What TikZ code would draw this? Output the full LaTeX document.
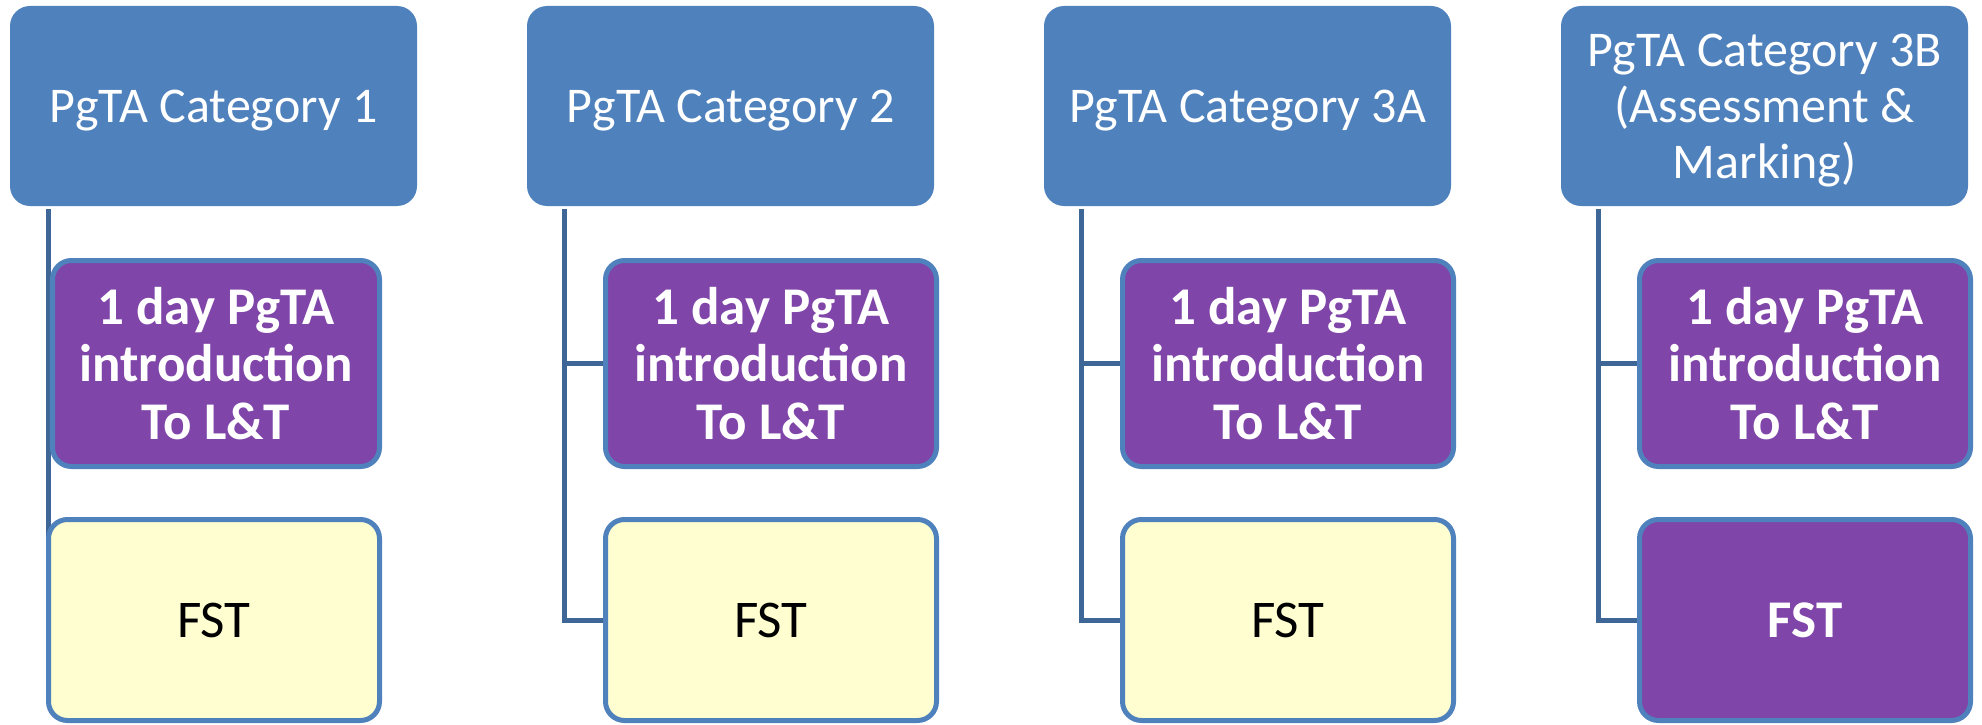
\documentclass[tikz,border=0pt]{standalone}
\usepackage{fontspec}
\setmainfont{Carlito}
\definecolor{hdrblue}{HTML}{4F81BD}
\definecolor{linkblue}{HTML}{3E6696}
\definecolor{boxpurple}{HTML}{7F45A8}
\definecolor{boxyellow}{HTML}{FEFED0}
\tikzset{
  hdr/.style={fill=hdrblue, draw=none, rounded corners=20pt, minimum width=407pt, minimum height=200pt, inner sep=0pt},
  hdrtext/.style={text=white, align=center, inner sep=0pt, yshift=-4.5pt, font=\fontsize{50}{55.6}\selectfont},
  child/.style={draw=hdrblue, line width=5pt, rounded corners=19pt, align=center, inner sep=0pt},
  purplebox/.style={child, fill=boxpurple, text=white, font=\fontsize{53}{57.5}\selectfont\bfseries},
  yellowbox/.style={child, fill=boxyellow, text=black, font=\fontsize{53}{57.5}\selectfont},
  purplefst/.style={child, fill=boxpurple, text=white, font=\fontsize{53}{57.5}\selectfont\bfseries},
  conn/.style={draw=linkblue, line width=5pt}
}
\begin{document}
\begin{tikzpicture}[x=1pt,y=-1pt]
\useasboundingbox (0,0) rectangle (1982,725);
% headers
\node[hdr, label={[hdrtext]center:PgTA Category 1}] (h1) at (213.5,106) {};
\node[hdr, label={[hdrtext]center:PgTA Category 2}] (h2) at (730.5,106) {};
\node[hdr, label={[hdrtext]center:PgTA Category 3A}] (h3) at (1247.5,106) {};
\node[hdr, label={[hdrtext]center:{PgTA Category 3B\\(Assessment \&\\Marking)}}] (h4) at (1764.5,106) {};
% connector tops
\coordinate (t1) at (48.5,209);
\coordinate (t2) at (564.5,209);
\coordinate (t3) at (1081.5,209);
\coordinate (t4) at (1598.5,209);
% connectors (drawn first, covered by boxes)
\draw[conn] (t1) -- (48.5,620);
\draw[conn] (t2) |- (605,363.5);
\draw[conn] (t2) |- (605,620);
\draw[conn] (t3) |- (1122,363.5);
\draw[conn] (t3) |- (1122,620);
\draw[conn] (t4) |- (1639,363.5);
\draw[conn] (t4) |- (1639,620);
% children
\node[purplebox, minimum width=327pt, minimum height=206pt] (p1) at (216,363.5) {1 day PgTA\\introduction\\To L\&T};
\node[yellowbox, minimum width=331pt, minimum height=201pt] (f1) at (214,620) {FST};
\node[purplebox, minimum width=331pt, minimum height=206pt] (p2) at (771,363.5) {1 day PgTA\\introduction\\To L\&T};
\node[yellowbox, minimum width=331pt, minimum height=201pt] (f2) at (771,620) {FST};
\node[purplebox, minimum width=331pt, minimum height=206pt] (p3) at (1288,363.5) {1 day PgTA\\introduction\\To L\&T};
\node[yellowbox, minimum width=331pt, minimum height=201pt] (f3) at (1288,620) {FST};
\node[purplebox, minimum width=331pt, minimum height=206pt] (p4) at (1805,363.5) {1 day PgTA\\introduction\\To L\&T};
\node[purplefst, minimum width=331pt, minimum height=201pt] (f4) at (1805,620) {FST};
\end{tikzpicture}
\end{document}
